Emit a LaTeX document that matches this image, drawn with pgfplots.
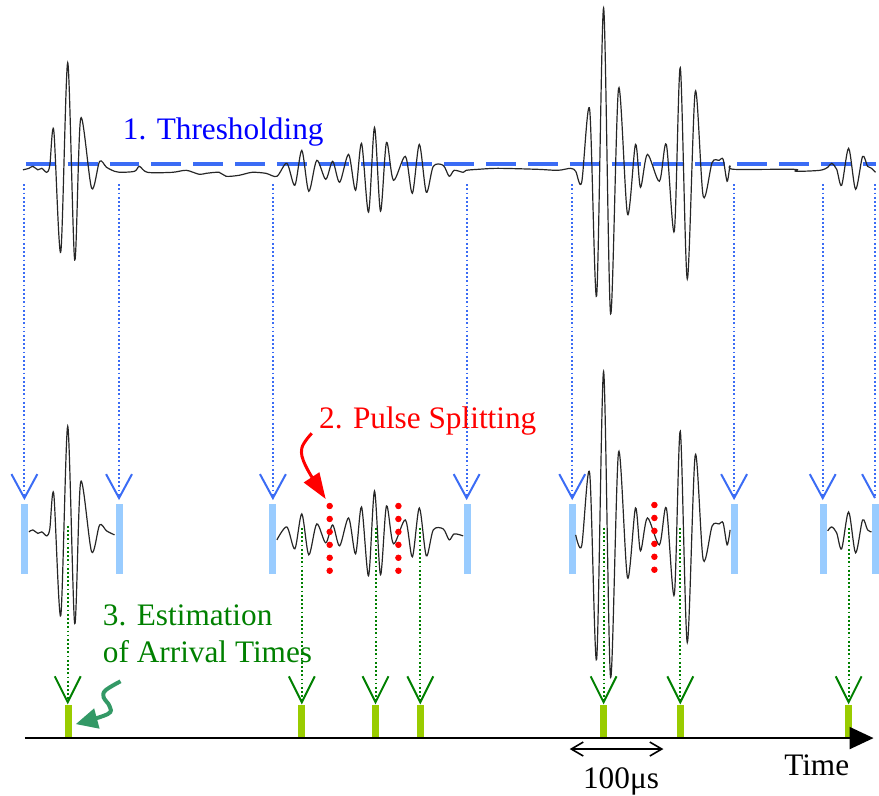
\documentclass[border=0pt]{standalone}
\usepackage{fontspec}
\setmainfont{Liberation Serif}
\usepackage{pgfplots}
\usepackage{pgfplotstable}
\pgfplotsset{compat=1.18}
\usetikzlibrary{arrows.meta}

\definecolor{threshblue}{RGB}{59,108,245}
\definecolor{barblue}{RGB}{153,204,255}
\definecolor{vgreen}{RGB}{0,128,0}
\definecolor{bargreen}{RGB}{153,204,0}
\definecolor{squig}{RGB}{51,153,102}

% signal, pixel units (y grows downwards)
\pgfplotstableread{
x y
23 170.5
29 169
33 167
38 170.5
42 169
47 173
50 166
54 131
61 253
68 63
75 261
81 119
92 189
100 162
107 168
115 172
120 173
135 172
140 167
148 173
173 173
187 171
200 175
207 174
220 173
227 177
240 176
253 173
267 174
278 177
288 164
296 186
303 151
310 192
318 161
327 180
334 162
341 183
350 155
357 191
363 144
370 213
376 128
382 212
388 143
395 181
407 157
414 194
421 145
428 193
435 167
445 166
451 177
456 171
465 173
468 171
480 170
500 169
540 170
560 171
573 169
578 172
584 183
592 110
599 297
606 8
613 315
621 89
630 215
638 145
643 188
650 155
662 182
669 145
677 232
683 68
690 280
698 92
706 197
715 163
722 161
726 160
730 182
733 167
737 170
797 170
799 172
823 171
831 168
835 164
840 170
845 186
852 149
859 190
866 157
871 167
875 169
879 173
}\sig

\newcommand{\fs}{\fontsize{15.7}{18.7}\selectfont}

\begin{document}
\begin{tikzpicture}
\begin{axis}[
    scale only axis, width=439.5pt, height=399pt,
    xmin=0, xmax=879, ymin=0, ymax=798, y dir=reverse,
    hide axis, clip=false,
    unbounded coords=jump,
]
\addplot[draw=none] coordinates {(0,0) (879,798)};

% threshold
\addplot[threshblue, line width=2pt, dash pattern=on 15pt off 6pt] coordinates {(26,165) (879,165)};

% top trace
\addplot[black!85, line width=0.6pt, smooth, tension=0.5] table {\sig};

% blue dotted drops
\addplot[threshblue, line width=1pt, dash pattern=on 0.9pt off 1.2pt] coordinates {
    (24.5,185) (24.5,498) (nan,nan) (119.5,185) (119.5,498) (nan,nan)
    (274,185) (274,498) (nan,nan) (468.5,185) (468.5,498) (nan,nan)
    (574.5,185) (574.5,498) (nan,nan) (737,185) (737,498) (nan,nan)
    (826,185) (826,498) (nan,nan) (878.5,185) (878.5,498)
};
% blue V heads
\addplot[threshblue, line width=1pt] coordinates {
    (11.5,476) (24.5,500) (37.5,476) (nan,nan)
    (106.5,476) (119.5,500) (132.5,476) (nan,nan)
    (261,476) (274,500) (287,476) (nan,nan)
    (455.5,476) (468.5,500) (481.5,476) (nan,nan)
    (561.5,476) (574.5,500) (587.5,476) (nan,nan)
    (724,476) (737,500) (750,476) (nan,nan)
    (813,476) (826,500) (839,476) (nan,nan)
    (865.5,476) (878.5,500)
};
% light blue bars
\addplot[barblue, line width=3.5pt] coordinates {
    (25,506) (25,576) (nan,nan) (119.5,506) (119.5,576) (nan,nan)
    (274,506) (274,576) (nan,nan) (469.5,506) (469.5,576) (nan,nan)
    (574.5,506) (574.5,576) (nan,nan) (737.5,506) (737.5,576) (nan,nan)
    (826.5,506) (826.5,576) (nan,nan) (879,506) (879,576)
};

% split pulses
\addplot[black!85, line width=0.6pt, smooth, tension=0.5, restrict x to domain=29:115] table[y expr=\thisrow{y}+365] {\sig};
\addplot[black!85, line width=0.6pt, smooth, tension=0.5, restrict x to domain=278:465] table[y expr=\thisrow{y}+365] {\sig};
\addplot[black!85, line width=0.6pt, smooth, tension=0.5, restrict x to domain=578:733] table[y expr=\thisrow{y}+365] {\sig};
\addplot[black!85, line width=0.6pt, smooth, tension=0.5, restrict x to domain=831:876] table[y expr=\thisrow{y}+365] {\sig};

% red split markers
\addplot[only marks, mark=*, mark size=1.4pt, red, mark options={draw=red, fill=red}] coordinates {
    (331,508) (331,521) (331,534) (331,547) (331,560) (331,573)
    (400,508) (400,521) (400,534) (400,547) (400,560) (400,573)
    (657,507) (657,520) (657,533) (657,546) (657,559) (657,572)
};
\addplot[red, line width=1.5pt, smooth, tension=0.6, -{Triangle[length=13pt, width=9pt]}]
    coordinates {(313,435) (303,450) (307,468) (327,501)};

% green dotted drops
\addplot[vgreen, line width=1pt, dash pattern=on 0.9pt off 1.2pt] coordinates {
    (68,528) (68,703) (nan,nan) (303,530) (303,703) (nan,nan)
    (377,530) (377,703) (nan,nan) (422,530) (422,703) (nan,nan)
    (606,530) (606,703) (nan,nan) (683,530) (683,703) (nan,nan)
    (852,530) (852,703)
};
% green V heads
\addplot[vgreen, line width=1pt] coordinates {
    (55,679) (68,705) (81,679) (nan,nan)
    (290,679) (303,705) (316,679) (nan,nan)
    (364,679) (377,705) (390,679) (nan,nan)
    (409,679) (422,705) (435,679) (nan,nan)
    (593,679) (606,705) (619,679) (nan,nan)
    (670,679) (683,705) (696,679) (nan,nan)
    (839,679) (852,705) (865,679)
};
% arrival time bars
\addplot[bargreen, line width=3.5pt] coordinates {
    (68.5,708) (68.5,740) (nan,nan) (303,708) (303,740) (nan,nan)
    (377,708) (377,740) (nan,nan) (422,708) (422,740) (nan,nan)
    (606,708) (606,740) (nan,nan) (683,708) (683,740) (nan,nan)
    (852,708) (852,740)
};
\addplot[squig, line width=2pt, smooth, tension=0.6, -{Triangle[length=11pt, width=10pt]}]
    coordinates {(121,684) (106,693) (104,700) (110,709) (108,717) (76,727)};

% time axis
\addplot[black, line width=1pt, -{Triangle[length=12pt, width=11pt]}] coordinates {(25,741) (877,741)};
\addplot[black, line width=0.8pt, {Straight Barb[length=6pt, width=7pt]}-{Straight Barb[length=6pt, width=7pt]}]
    coordinates {(572,752) (666,752)};

\node[anchor=base west, inner sep=0pt, text=blue, font=\fs] at (axis cs:123,140) {1. Thresholding};
\node[anchor=base west, inner sep=0pt, text=red, font=\fs] at (axis cs:320,430) {2. Pulse Splitting};
\node[anchor=base west, inner sep=0pt, text=vgreen, font=\fs] at (axis cs:103,628) {3. Estimation};
\node[anchor=base west, inner sep=0pt, text=vgreen, font=\fs] at (axis cs:103,665) {of Arrival Times};
\node[anchor=base west, inner sep=0pt, font=\fs] at (axis cs:787,779) {Time};
\node[anchor=base west, inner sep=0pt, font=\fs] at (axis cs:585,792) {100μs};
\end{axis}
\end{tikzpicture}
\end{document}
